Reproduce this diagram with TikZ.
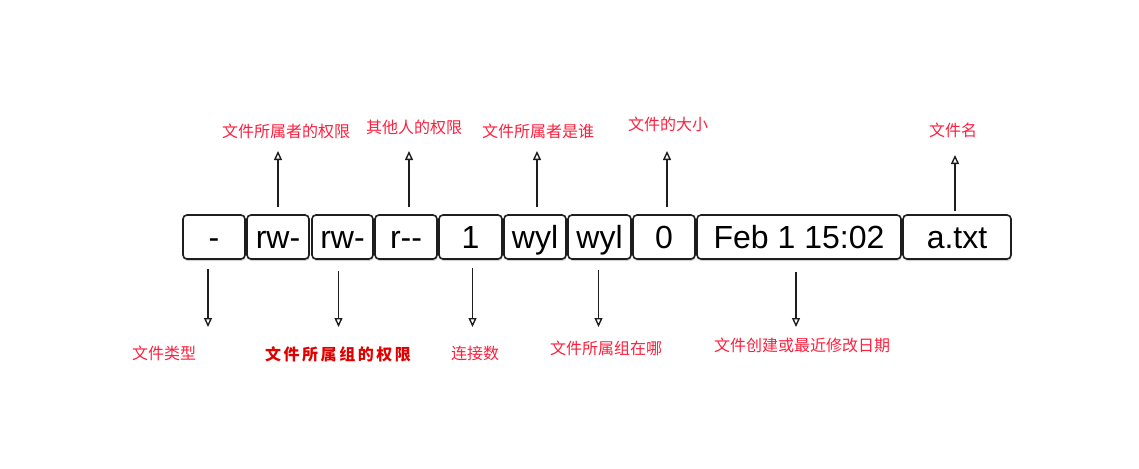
\documentclass[tikz,border=0pt]{standalone}
\usepackage{fontspec}
\setmainfont{Liberation Sans}
\newfontfamily\cjk{Noto Sans CJK SC}
\newfontfamily\cjkwide[LetterSpace=16]{Noto Sans CJK SC}
\usetikzlibrary{arrows.meta,shadows}
\definecolor{ink}{HTML}{1E1E1E}
\definecolor{note}{HTML}{FF1F3D}
\definecolor{notedk}{HTML}{E00000}
\tikzset{
  field/.style={draw=ink, fill=white, line width=1.6pt, rounded corners=4pt,
                minimum height=44pt, text height=22.5pt, text depth=0pt, inner sep=0pt,
                font=\fontsize{32}{32}\selectfont,
                drop shadow={shadow xshift=0.6pt, shadow yshift=-2pt, opacity=0.35}},
  tag/.style={text=note, font=\cjk\fontsize{16}{16}\selectfont, inner sep=1pt},
  tagbf/.style={tag, text=notedk, font=\cjkwide\bfseries\fontsize{16}{16}\selectfont},
  ar/.style={-{Triangle[open,length=9pt,width=8pt]}, line width=1.4pt, draw=ink}
}

\begin{document}
\begin{tikzpicture}[x=1pt,y=-1pt]
  \useasboundingbox (0,0) rectangle (1139,468);

  % the fields of one ls -l line
  \node[field, minimum width=62pt]  (ftype) at (214,237)   {-};
  \node[field, minimum width=62pt]  (uperm) at (278,237)   {rw-};
  \node[field, minimum width=61pt]  (gperm) at (342.5,237) {rw-};
  \node[field, minimum width=62pt]  (operm) at (406,237)   {r-{}-};
  \node[field, minimum width=63pt]  (links) at (470.5,237) {1};
  \node[field, minimum width=62pt]  (owner) at (535,237)   {wyl};
  \node[field, minimum width=63pt]  (group) at (599.5,237) {wyl};
  \node[field, minimum width=62pt]  (fsize) at (664,237)   {0};
  \node[field, minimum width=204pt] (mtime) at (799,237)   {Feb 1 15:02};
  \node[field, minimum width=108pt] (fname) at (957,237)   {a.txt};

  % labels above
  \node[tag] (luperm) at (286,131) {文件所属者的权限};
  \node[tag] (loperm) at (414,127) {其他人的权限};
  \node[tag] (lowner) at (538,131) {文件所属者是谁};
  \node[tag] (lfsize) at (668,124) {文件的大小};
  \node[tag] (lfname) at (953,130) {文件名};

  % labels below
  \node[tag]   (lftype) at (164,353) {文件类型};
  \node[tagbf] (lgperm) at (338,354) {文件所属组的权限};
  \node[tag]   (llinks) at (475,353) {连接数};
  \node[tag]   (lgroup) at (606,348) {文件所属组在哪};
  \node[tag]   (lmtime) at (802,345) {文件创建或最近修改日期};

  \coordinate (uptip) at (0,151);
  \coordinate (downtip) at (0,327);

  \draw[ar] ([yshift=7pt]uperm.north) -- (uperm.north |- uptip);
  \draw[ar] ([xshift=3pt,yshift=7pt]operm.north) -- ([xshift=3pt]operm.north |- uptip);
  \draw[ar] ([xshift=2pt,yshift=7pt]owner.north) -- ([xshift=2pt]owner.north |- uptip);
  \draw[ar] ([xshift=3pt,yshift=7pt]fsize.north) -- ([xshift=3pt]fsize.north |- uptip);
  \draw[ar] ([xshift=-2pt,yshift=3pt]fname.north) -- ([xshift=-2pt,yshift=-4pt]fname.north |- uptip);

  \draw[ar] ([xshift=-6pt,yshift=-9pt]ftype.south) -- ([xshift=-6pt]ftype.south |- downtip);
  \draw[ar] ([xshift=-4pt,yshift=-11pt]gperm.south) -- ([xshift=-4pt]gperm.south |- downtip);
  \draw[ar] ([xshift=2pt,yshift=-8pt]links.south) -- ([xshift=2pt]links.south |- downtip);
  \draw[ar] ([xshift=-1pt,yshift=-10pt]group.south) -- ([xshift=-1pt]group.south |- downtip);
  \draw[ar] ([xshift=-3pt,yshift=-12pt]mtime.south) -- ([xshift=-3pt]mtime.south |- downtip);
\end{tikzpicture}
\end{document}
